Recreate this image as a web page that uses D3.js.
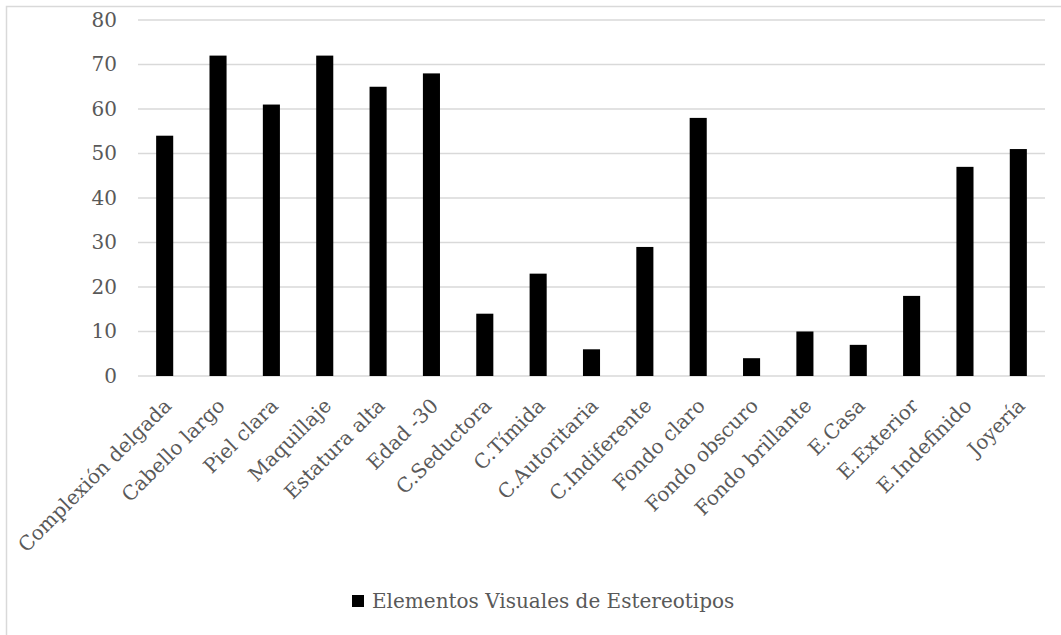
<!DOCTYPE html>
<html>
<head>
<meta charset="utf-8">
<script src="https://cdn.jsdelivr.net/npm/d3@7"></script>
<style>
  html, body { margin: 0; padding: 0; background: #fff; }
  svg text { font-family: "DejaVu Serif", serif; fill: #595959; }
</style>
</head>
<body>
<svg id="chart" width="1061" height="635"></svg>
<script>
// Visual stereotype elements and how often each appears
const categories = [
  "Complexión delgada", "Cabello largo", "Piel clara", "Maquillaje",
  "Estatura alta", "Edad -30", "C.Seductora", "C.Tímida", "C.Autoritaria",
  "C.Indiferente", "Fondo claro", "Fondo obscuro", "Fondo brillante",
  "E.Casa", "E.Exterior", "E.Indefinido", "Joyería"
];
const values = [54, 72, 61, 72, 65, 68, 14, 23, 6, 29, 58, 4, 10, 7, 18, 47, 51];
const yTicks = [0, 10, 20, 30, 40, 50, 60, 70, 80];
const seriesName = "Elementos Visuales de Estereotipos";

const svg = d3.select("#chart");
const W = 1061, H = 635;
const fontSize = 20;

// outer chart frame
svg.append("rect")
  .attr("x", 6.5).attr("y", 6.5)
  .attr("width", W + 10).attr("height", H + 10)
  .attr("fill", "none").attr("stroke", "#d9d9d9").attr("stroke-width", 1.5);

const plot = { left: 138, right: 1045, top: 20, bottom: 376 };

const x = d3.scaleBand()
  .domain(categories)
  .range([plot.left, plot.right])
  .paddingInner(0.68)
  .paddingOuter(0.34);

const y = d3.scaleLinear()
  .domain([0, 80])
  .range([plot.bottom, plot.top]);

// horizontal gridlines
svg.append("g")
  .selectAll("line")
  .data(yTicks)
  .join("line")
  .attr("x1", plot.left).attr("x2", plot.right)
  .attr("y1", d => y(d)).attr("y2", d => y(d))
  .attr("stroke", "#d9d9d9").attr("stroke-width", 1.5);

// y axis labels
const yAxis = d3.axisLeft(y).tickValues(yTicks).tickSize(0).tickPadding(0);
const yG = svg.append("g")
  .attr("transform", `translate(${plot.left - 21},0)`)
  .call(yAxis);
yG.select(".domain").remove();
yG.selectAll("text")
  .attr("font-size", fontSize)
  .attr("font-family", "DejaVu Serif")
  .attr("fill", "#595959");

// bars
svg.append("g")
  .selectAll("rect")
  .data(categories.map((c, i) => ({ c, v: values[i] })))
  .join("rect")
  .attr("x", d => x(d.c))
  .attr("y", d => y(d.v))
  .attr("width", x.bandwidth())
  .attr("height", d => y(0) - y(d.v))
  .attr("fill", "#000");

// category labels, rotated
const xAxis = d3.axisBottom(x).tickSize(0).tickPadding(0);
const xG = svg.append("g")
  .attr("transform", `translate(0,${plot.bottom})`)
  .call(xAxis);
xG.select(".domain").remove();
xG.selectAll("text")
  .attr("font-size", fontSize)
  .attr("font-family", "DejaVu Serif")
  .attr("fill", "#595959")
  .attr("text-anchor", "end")
  .attr("dy", "0.35em")
  .attr("y", 0)
  .attr("transform", "translate(3,26) rotate(-45)");

// legend
const legendX = 352, legendY = 601;
svg.append("rect")
  .attr("x", legendX).attr("y", legendY - 6)
  .attr("width", 12).attr("height", 12)
  .attr("fill", "#000");
svg.append("text")
  .attr("x", legendX + 20).attr("y", legendY)
  .attr("dy", "0.35em")
  .attr("font-size", fontSize)
  .text(seriesName);
</script>
</body>
</html>
